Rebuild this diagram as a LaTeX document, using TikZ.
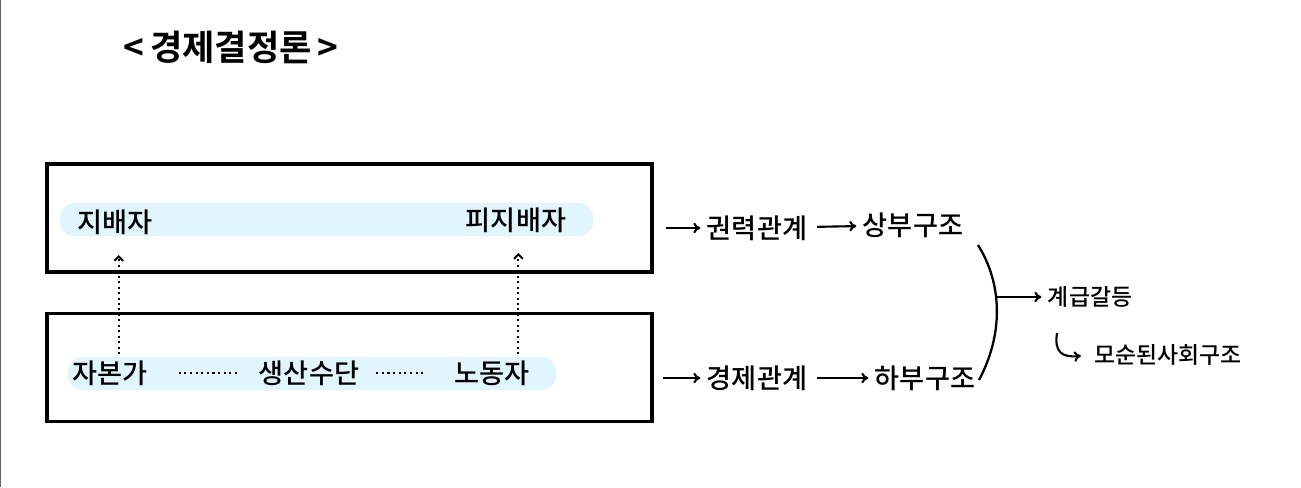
\documentclass[tikz,border=0pt]{standalone}
\usepackage{fontspec}
\setmainfont{Noto Sans CJK KR}[BoldFont={Noto Sans CJK KR Bold}]
\newfontfamily\medfont{Noto Sans CJK KR Medium}
\usetikzlibrary{arrows.meta, positioning}

\definecolor{hl}{RGB}{224,245,252}

\tikzset{
  lbl/.style={font=\medfont\fontsize{15.5}{17}\selectfont},
  small/.style={font=\medfont\fontsize{13}{15}\selectfont},
  frame/.style={draw, line width=2.2pt, minimum width=12.1cm, minimum height=2.16cm},
  arr/.style={-{To[length=4pt,width=6pt]}, line width=1.2pt},
  dotarr/.style={dotted, line width=1.1pt, -{Straight Barb[length=2.5pt,width=5pt]}}
}

\begin{document}
\begin{tikzpicture}[x=0.02cm, y=-0.02cm, thick]
  \useasboundingbox (0,0) rectangle (1301,487);

  % left screen edge
  \draw[gray!80!black, line width=1pt] (0.5,0) -- (0.5,487);

  % title
  \node[font=\fontsize{20}{24}\selectfont\bfseries] (head) at (231,47) {<\,경제결정론\,>};

  % the two boxes
  \node[frame] (upper) at (349.5,218) {};
  \node[frame] (lower) at (349.5,367.5) {};

  % highlight bars
  \fill[hl, rounded corners=8] (60,203) rectangle (593,236);
  \fill[hl, rounded corners=8] (68,357) rectangle (556,390);

  % upper row
  \node[lbl] (ruler) at (115,222) {지배자};
  \node[lbl] (ruled) at (516,220) {피지배자};

  % lower row
  \node[lbl] (capital) at (110,373) {자본가};
  \node[lbl] (means) at (309,373) {생산수단};
  \node[lbl] (labour) at (492,373) {노동자};

  \draw[dotted, line width=1.2pt, shorten <=14pt, shorten >=9pt] (capital) -- (means);
  \draw[dotted, line width=1.2pt, shorten <=6pt, shorten >=12pt] (means) -- (labour);

  % who rules whom
  \draw[dotarr, shorten >=8pt] ([xshift=5pt]capital.north) -- ([xshift=5pt]capital.north |- ruler.south);
  \draw[dotarr, shorten >=8pt] ([xshift=15pt]labour.north) -- ([xshift=15pt]labour.north |- ruled.south);

  % relations and structures
  \node[lbl] (power) at (757,228) {권력관계};
  \node[lbl] (super) at (913,225) {상부구조};
  \node[lbl] (econ) at (757,378) {경제관계};
  \node[lbl] (base) at (925,378) {하부구조};

  \draw[arr, shorten <=7pt] (upper.east |- power) -- (power);
  \draw[arr, shorten <=2pt] (power) -- (super);
  \draw[arr, shorten <=5pt] (lower.east |- econ) -- (econ);
  \draw[arr, shorten <=2pt] (econ) -- (base);

  % bracket joining both
  \coordinate (btop) at (978,245);
  \coordinate (bbot) at (979,380);
  \coordinate (bmid) at (996,297);
  \draw[line width=1.3pt] (btop) .. controls (1003,285) and (1003,335) .. (bbot);

  \node[small] (conflict) at (1090,297) {계급갈등};
  \draw[arr] (bmid) -- (conflict);

  \node[small] (contra) at (1168,355) {모순된사회구조};
  \coordinate (hook) at (1057,333);
  \draw[arr, shorten >=4pt] (hook) .. controls (1054,352) and (1062,358) .. (contra.west);
\end{tikzpicture}
\end{document}
